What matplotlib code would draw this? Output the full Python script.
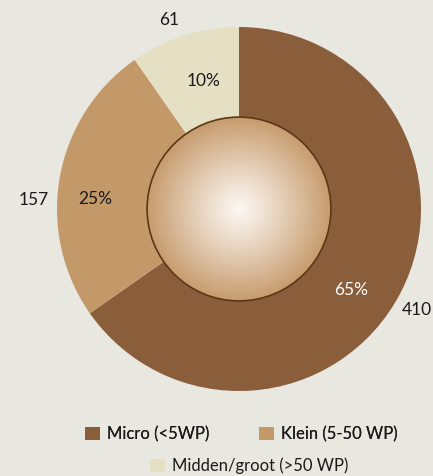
import numpy as np
import matplotlib
matplotlib.use("Agg")
import matplotlib.pyplot as plt
from matplotlib.patches import Circle

plt.rcParams['font.family'] = ['Lato', 'DejaVu Sans']

# data
categories = ["Micro (<5WP)", "Klein (5-50 WP)", "Midden/groot (>50 WP)"]
counts = [410, 157, 61]
percent_labels = ["65%", "25%", "10%"]
colors = ["#8A5D3B", "#C4996A", "#E5E0C3"]

BG = "#E8E7E0"

fig = plt.figure(figsize=(4.33, 4.76), dpi=100)
fig.patch.set_facecolor(BG)
# pie centre at (239, 209) px, radius 182 px
ax = fig.add_axes([57 / 433, 85 / 476, 364 / 433, 364 / 476])
ax.set_facecolor(BG)

wedges, _ = ax.pie(counts, colors=colors, startangle=90, counterclock=False,
                   radius=1, wedgeprops=dict(linewidth=0))

# radial-gradient centre disc
r_in = 0.505
n = 300
g = np.linspace(-r_in, r_in, n)
xx, yy = np.meshgrid(g, g)
d = np.clip(np.sqrt(xx ** 2 + yy ** 2) / r_in, 0, 1)
c_mid = np.array([0.99, 0.97, 0.95])
c_edge = np.array([0.78, 0.61, 0.43])
t = d[..., None] ** 1.1
img = c_mid * (1 - t) + c_edge * t
im = ax.imshow(img, extent=[-r_in, r_in, -r_in, r_in], origin="lower",
               zorder=3, interpolation="bilinear")
clip = Circle((0, 0), r_in, transform=ax.transData)
im.set_clip_path(clip)
ax.add_patch(Circle((0, 0), r_in, fill=False, edgecolor="#5C3816",
                    linewidth=1.2, zorder=4))

# labels (angle in degrees, radius relative to pie)
pct_pos = [(-35.6, 0.76), (176.0, 0.79), (105.3, 0.73)]
cnt_pos = [(-29.6, 1.125), (177.5, 1.127), (110.3, 1.107)]
pct_colors = ["white", "#1A1A1A", "#1A1A1A"]
for i in range(len(counts)):
    a, r = pct_pos[i]
    ax.text(r * np.cos(np.radians(a)), r * np.sin(np.radians(a)), percent_labels[i],
            ha="center", va="center", fontsize=12.5, color=pct_colors[i], zorder=5)
    a, r = cnt_pos[i]
    ax.text(r * np.cos(np.radians(a)), r * np.sin(np.radians(a)), str(counts[i]),
            ha="center", va="center", fontsize=12.5, color="#1A1A1A", zorder=5)

ax.set_xlim(-1, 1)
ax.set_ylim(-1, 1)
ax.set_aspect("equal")
ax.axis("off")

leg_kw = dict(frameon=False, fontsize=12, handlelength=0.9, handleheight=0.9,
              handletextpad=0.4, borderpad=0, labelcolor="#1A1A1A")
leg1 = fig.legend(wedges[:2], categories[:2], loc="center",
                  bbox_to_anchor=(0.558, 0.088), ncol=2, columnspacing=3.0, **leg_kw)
fig.add_artist(leg1)
fig.legend(wedges[2:], categories[2:], loc="center",
           bbox_to_anchor=(0.575, 0.021), **leg_kw)

fig.savefig("out.png", dpi=100, facecolor=fig.get_facecolor())
